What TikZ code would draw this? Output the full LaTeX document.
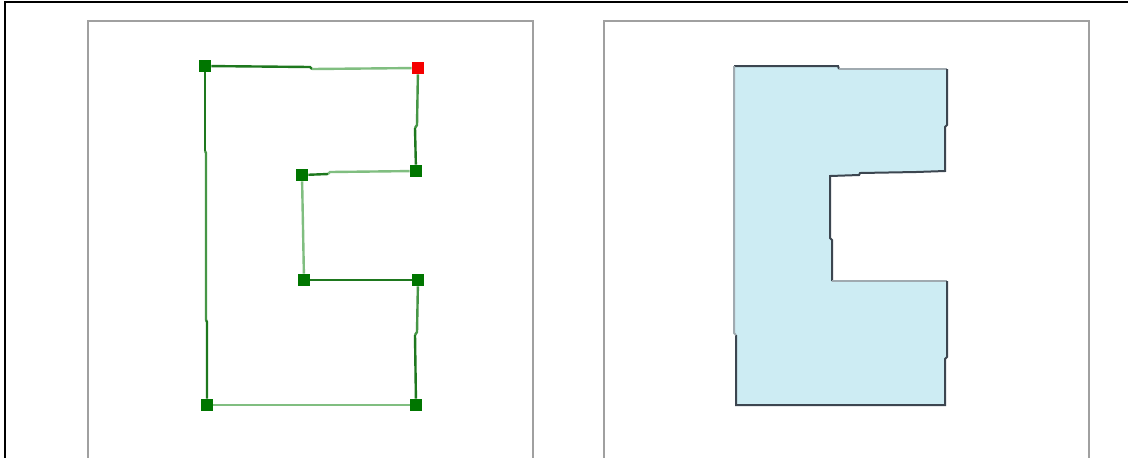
\documentclass[tikz,border=0pt]{standalone}
\usepackage{tikz}
\definecolor{vgreen}{RGB}{0,118,0}
\definecolor{edark}{RGB}{30,120,30}
\definecolor{emid}{RGB}{70,150,70}
\definecolor{elight}{RGB}{128,190,128}
\definecolor{vred}{RGB}{245,0,0}
\definecolor{pgray}{RGB}{160,160,160}
\definecolor{sfill}{RGB}{205,236,243}
\definecolor{sdark}{RGB}{60,70,80}
\definecolor{slight}{RGB}{160,170,176}
\begin{document}
\begin{tikzpicture}[x=0.5pt,y=-0.5pt,
	vert/.style={rectangle,fill=vgreen,inner sep=0pt,minimum size=6pt},
	first/.style={vert,fill=vred},
	dk/.style={draw=edark,line width=1.2pt},
	md/.style={draw=emid,line width=1.2pt},
	lt/.style={draw=elight,line width=1.2pt},
	panel/.style={draw=pgray,line width=1pt},
	sdk/.style={draw=sdark,line width=1pt},
	slt/.style={draw=slight,line width=1pt}]
	\clip (0,0) rectangle (1128,457);
	\fill[white] (0,0) rectangle (1128,457);
	
	% outer frame
	\draw[black,line width=0.8pt] (5,470) -- (5,2) -- (1140,2);
	% panels
	\draw[panel] (88,470) -- (88,21) -- (533,21) -- (533,470);
	\draw[panel] (604,470) -- (604,21) -- (1089,21) -- (1089,470);
	
	% vertices
	\node[vert] (A) at (205,66) {};
	\node[first] (B) at (418,68) {};
	\node[vert] (C) at (416,171) {};
	\node[vert] (D) at (302,175) {};
	\node[vert] (E) at (304,280) {};
	\node[vert] (F) at (418,280) {};
	\node[vert] (G) at (416,405) {};
	\node[vert] (H) at (207,405) {};
	
	% kinks along the edges
	\coordinate (ab1) at (310,67);
	\coordinate (ab2) at (312,69);
	\coordinate (bc1) at (417,125);
	\coordinate (bc2) at (415,128);
	\coordinate (cd1) at (330,172);
	\coordinate (cd2) at (328,174);
	\coordinate (fg1) at (417,332);
	\coordinate (fg2) at (415,335);
	\coordinate (ha1) at (207,322);
	\coordinate (ha2) at (206,320);
	\coordinate (ha3) at (206,153);
	\coordinate (ha4) at (205,151);
	
	% edges
	\draw[dk] (A) -- (ab1) -- (ab2);
	\draw[lt] (ab2) -- (B);
	\draw[md] (B) -- (bc1) -- (bc2);
	\draw[dk] (bc2) -- (C);
	\draw[lt] (C) -- (cd1) -- (cd2);
	\draw[dk] (cd2) -- (D);
	\draw[lt] (D) -- (E);
	\draw[dk] (E) -- (F);
	\draw[md] (F) -- (fg1) -- (fg2);
	\draw[dk] (fg2) -- (G);
	\draw[lt] (G) -- (H);
	\draw[dk] (H) -- (ha1) -- (ha2);
	\draw[md] (ha2) -- (ha3) -- (ha4);
	\draw[dk] (ha4) -- (A);
	
	% filled shape
	\fill[sfill] (734,66) -- (838,66) -- (839,69) -- (947,69) -- (947,125) -- (945,127)
		-- (945,171) -- (916,172) -- (860,173) -- (859,175) -- (830,176) -- (830,238)
		-- (832,240) -- (832,281) -- (947,281) -- (947,357) -- (945,359) -- (945,405)
		-- (736,405) -- (736,335) -- (734,333) -- cycle;
	\draw[sdk] (734,66) -- (838,66) -- (839,69);
	\draw[slt] (839,69) -- (947,69);
	\draw[sdk] (947,69) -- (947,125) -- (945,127) -- (945,171) -- (916,172) -- (860,173)
		-- (859,175) -- (830,176) -- (830,238) -- (832,240) -- (832,281);
	\draw[slt] (832,281) -- (947,281);
	\draw[sdk] (947,281) -- (947,357) -- (945,359) -- (945,405) -- (736,405) -- (736,335);
	\draw[slt] (736,335) -- (734,333) -- (734,66);
\end{tikzpicture}
\end{document}
